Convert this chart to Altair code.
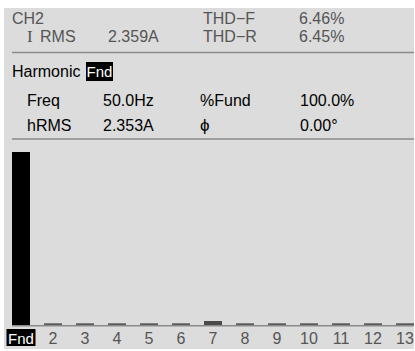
import altair as alt
import pandas as pd

# Harmonic spectrum (% of fundamental)
harmonics = ["Fnd", "2", "3", "4", "5", "6", "7", "8", "9", "10", "11", "12", "13"]
pct_fund = [100.0, 1.0, 1.0, 1.0, 1.0, 1.0, 2.3, 1.0, 1.0, 1.0, 1.0, 1.0, 1.0]

# Readout texts
header_row1 = ["CH2", "THD\u2212F", "6.46%"]
header_row2 = ["I RMS", "2.359A", "THD\u2212R", "6.45%"]
detail_row1 = ["Freq", "50.0Hz", "%Fund", "100.0%"]
detail_row2 = ["hRMS", "2.353A", "\u03d5", "0.00\u00b0"]
selected = "Fnd"

W, H = 415, 351
FONT = "Liberation Sans"
FS = 16
PANEL = "#dcdcdc"
DIM = "#555555"

bars_df = pd.DataFrame({"harmonic": harmonics, "pct": pct_fund})
bars_df["color"] = ["#000000"] + ["#4a4a4a" if h == "7" else "#5a5a5a" for h in harmonics[1:]]

one = pd.DataFrame({"k": [0]})

xscale = alt.Scale(domain=harmonics, range=[5, 421], paddingInner=0.4375, paddingOuter=0.21875)
yscale = alt.Scale(domain=[0, 100], range=[325, 152])


def label(text, x, y, color="#000000", size=FS, font=FONT, align="left"):
    return alt.Chart(one).mark_text(
        text=text, align=align, baseline="alphabetic", font=font, fontSize=size, color=color
    ).encode(x=alt.value(x), y=alt.value(y))


def box(x, x2, y, y2, color):
    return alt.Chart(one).mark_rect(color=color).encode(
        x=alt.value(x), x2=alt.value(x2), y=alt.value(y), y2=alt.value(y2)
    )


def hline(y, color="#8a8a8a", x=12, x2=414, width=1.5):
    return alt.Chart(one).mark_rule(color=color, strokeWidth=width).encode(
        x=alt.value(x), x2=alt.value(x2), y=alt.value(y)
    )


panel = box(4, 414, 8, 349, PANEL)

header = [
    label(header_row1[0], 12, 24, DIM),
    label(header_row1[1], 203, 24, DIM),
    label(header_row1[2], 299, 24, DIM),
    label("I", 27, 42, DIM, size=17, font="Liberation Serif"),
    label(header_row2[0][2:], 40, 42, DIM),
    label(header_row2[1], 108, 42, DIM),
    label(header_row2[2], 203, 42, DIM),
    label(header_row2[3], 299, 42, DIM),
    hline(52.5),
    label("Harmonic", 12, 77),
    box(86, 113, 62, 81, "#000000"),
    label(selected, 99.5, 77, "#ffffff", size=15, align="center"),
    label(detail_row1[0], 27, 106),
    label(detail_row1[1], 103, 106),
    label(detail_row1[2], 200, 106),
    label(detail_row1[3], 300, 106),
    label(detail_row2[0], 27, 131),
    label(detail_row2[1], 103, 131),
    label(detail_row2[2], 200, 131, size=17),
    label(detail_row2[3], 300, 131),
    hline(139),
]

bars = alt.Chart(bars_df).mark_bar().encode(
    x=alt.X("harmonic:N", scale=xscale, axis=None, sort=harmonics),
    y=alt.Y("pct:Q", scale=yscale, axis=None),
    color=alt.Color("color:N", scale=None),
)

baseline = hline(325.75, color="#8a8a8a", width=1.5)

sel_df = bars_df[bars_df["harmonic"] == selected]
sel_box = alt.Chart(sel_df).mark_bar(width=29, color="#000000").encode(
    x=alt.X("harmonic:N", scale=xscale, axis=None, sort=harmonics),
    y=alt.value(329),
    y2=alt.value(346),
)

tick_labels = alt.Chart(bars_df).mark_text(
    baseline="alphabetic", font=FONT, fontSize=FS
).encode(
    x=alt.X("harmonic:N", scale=xscale, axis=None, sort=harmonics),
    y=alt.value(344),
    text="harmonic:N",
    size=alt.condition(alt.datum.harmonic == selected, alt.value(15), alt.value(FS)),
    color=alt.condition(alt.datum.harmonic == selected, alt.value("#ffffff"), alt.value(DIM)),
)

chart = alt.layer(panel, *header, bars, baseline, sel_box, tick_labels).properties(
    width=W, height=H, padding=0, autosize=alt.AutoSizeParams(type="none"), background="#ffffff"
).configure_view(stroke=None)

chart.save("out.html", embed_options={"renderer": "svg", "actions": False})
